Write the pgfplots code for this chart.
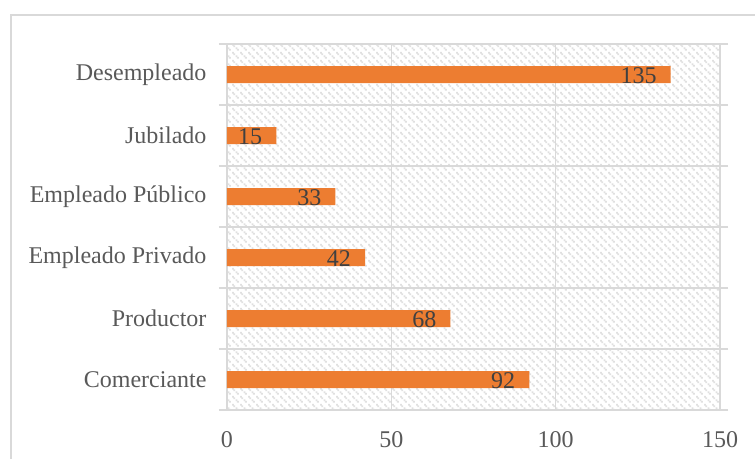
\documentclass[border=0pt]{standalone}
\usepackage{fontspec}
\setmainfont{Liberation Serif}
\usepackage{pgfplots}
\pgfplotsset{compat=1.18}
\usetikzlibrary{patterns}

\definecolor{barorange}{HTML}{ED7D31}
\definecolor{gridgray}{HTML}{D9D9D9}
\definecolor{labelgray}{HTML}{595959}
\definecolor{valgray}{HTML}{404040}

% dotted-diamond texture for the plot area: short down-right dashes
\pgfdeclarepatternformonly{dotdiamond}{\pgfpointorigin}{\pgfpoint{8pt}{8pt}}{\pgfpoint{8pt}{8pt}}{%
  \pgfpathrectangle{\pgfpoint{0pt}{6pt}}{\pgfpoint{2pt}{2pt}}%
  \pgfpathrectangle{\pgfpoint{1.6pt}{4.4pt}}{\pgfpoint{2pt}{2pt}}%
  \pgfpathrectangle{\pgfpoint{4pt}{2pt}}{\pgfpoint{2pt}{2pt}}%
  \pgfpathrectangle{\pgfpoint{5.6pt}{0.4pt}}{\pgfpoint{2pt}{2pt}}%
  \pgfusepath{fill}%
}

\begin{document}
\begin{tikzpicture}[x=1pt,y=1pt]
  \useasboundingbox (0,0) rectangle (755,458);
  \begin{scope}
    \clip (0,0) rectangle (755,458);
    % chart frame, open towards the right and bottom
    \draw[gridgray, line width=1.5pt] (11,-20) -- (11,443) -- (780,443);
  \end{scope}
  \begin{axis}[
    at={(227pt,48pt)}, anchor=south west,
    scale only axis,
    width=493pt, height=366pt,
    xbar, bar width=17pt,
    xmin=0, xmax=150,
    ymin=-0.5, ymax=5.5,
    xtick={0,50,100,150},
    ytick={0,1,2,3,4,5},
    yticklabels={Comerciante, Productor, Empleado Privado, Empleado Público, Jubilado, Desempleado},
    minor ytick={-0.5,0.5,1.5,2.5,3.5,4.5,5.5},
    xmajorgrids=true, yminorgrids=true,
    grid style={gridgray, line width=1.5pt},
    minor grid style={gridgray, line width=1.5pt},
    axis line style={gridgray, line width=1.5pt},
    major tick length=0pt, minor tick length=8pt,
    tick align=outside,
    minor y tick style={gridgray, line width=1.5pt},
    axis background/.style={fill=white, postaction={pattern=dotdiamond, pattern color=black!12}},
    /pgf/number format/assume math mode=true,
    tick label style={font=\fontsize{24}{28}\selectfont, text=labelgray},
    yticklabel style={xshift=-17pt},
    xticklabel style={yshift=-18pt},
    nodes near coords,
    every node near coord/.append style={anchor=east, inner sep=0pt, xshift=-14pt, yshift=-1pt, text=valgray, font=\fontsize{24}{28}\selectfont},
    clip=false,
  ]
    \addplot[fill=barorange, draw=none] coordinates {
      (92,0) (68,1) (42,2) (33,3) (15,4) (135,5)
    };
  \end{axis}
\end{tikzpicture}
\end{document}
